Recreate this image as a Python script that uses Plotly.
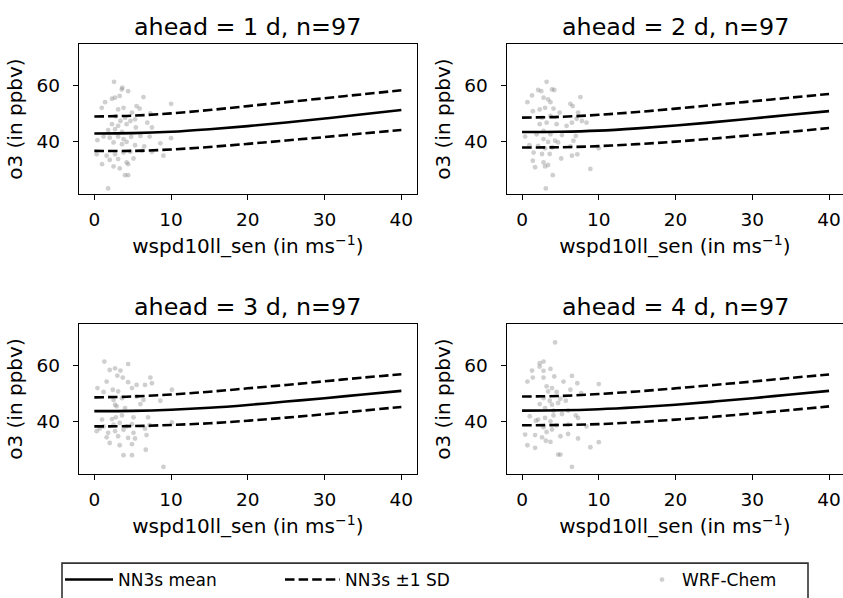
import plotly.graph_objects as go

# ---------------------------------------------------------------- data
lead_days = [1, 2, 3, 4]
n_samples = [97, 97, 97, 97]

# NN3s response curves on a wind-speed grid (m/s)
grid_wspd = [0, 5, 10, 15, 20, 25, 30, 35, 40]

mean_d1 = [43.0, 43.1, 43.6, 44.5, 45.6, 46.9, 48.3, 49.8, 51.3]
upper_d1 = [49.0, 49.3, 50.1, 51.3, 52.7, 54.1, 55.5, 56.9, 58.3]
lower_d1 = [36.8, 36.8, 37.3, 38.2, 39.3, 40.5, 41.7, 43.0, 44.2]

mean_d2 = [43.5, 43.6, 44.0, 44.8, 45.8, 47.0, 48.3, 49.6, 50.9]
upper_d2 = [48.6, 48.9, 49.6, 50.6, 51.8, 53.1, 54.4, 55.7, 57.0]
lower_d2 = [38.0, 38.1, 38.5, 39.2, 40.1, 41.2, 42.4, 43.6, 44.9]

mean_d3 = [43.8, 43.9, 44.3, 45.0, 46.0, 47.2, 48.4, 49.7, 51.0]
upper_d3 = [48.7, 49.0, 49.7, 50.7, 51.9, 53.1, 54.4, 55.7, 56.9]
lower_d3 = [38.4, 38.5, 38.9, 39.5, 40.4, 41.5, 42.7, 44.0, 45.3]

mean_d4 = [44.0, 44.1, 44.5, 45.2, 46.1, 47.2, 48.4, 49.7, 51.0]
upper_d4 = [49.0, 49.2, 49.9, 50.8, 51.9, 53.1, 54.3, 55.6, 56.8]
lower_d4 = [38.8, 38.9, 39.2, 39.9, 40.8, 41.8, 43.0, 44.2, 45.5]

# WRF-Chem samples: 10 m wind speed (m/s) and O3 (ppbv)
wspd_d1 = [2.57, 3.65, 3.57, 4.4, 1.4, 2.3, 2.7, 3.3, 6.4, 10.0, 0.96, 3.1, 3.8,
           5.5, 5.9, 4.9, 7.3, 2.8, 4.0, 3.4, 4.7, 5.3, 2.3, 3.1, 4.2, 6.9, 1.8,
           2.7, 3.6, 5.4, 7.5, 1.2, 2.0, 3.1, 3.8, 4.8, 6.0, 7.2, 10.0, 0.4, 2.5,
           3.6, 4.2, 5.3, 6.5, 8.6, 0.3, 1.6, 2.7, 3.8, 4.7, 6.2, 7.5, 9.0, 2.0,
           3.1, 4.2, 5.1, 1.0, 2.5, 3.3, 4.4, 4.0, 4.4, 1.8]
o3_d1 = [61.3, 59.2, 58.6, 58.0, 54.1, 55.3, 55.7, 56.3, 55.9, 53.5, 52.1, 51.5,
         52.1, 52.7, 51.8, 50.4, 50.1, 49.1, 48.6, 47.4, 47.4, 48.0, 46.3, 45.7,
         46.3, 46.8, 44.2, 44.5, 43.5, 45.1, 45.1, 41.9, 41.5, 41.9, 41.0, 41.8,
         42.1, 41.9, 41.3, 40.6, 39.8, 39.2, 40.0, 38.8, 38.4, 39.5, 35.6, 35.1,
         35.6, 36.2, 36.5, 36.8, 36.5, 35.1, 33.6, 33.9, 32.7, 34.1, 32.1, 31.3,
         30.6, 32.1, 28.2, 28.2, 23.5]

wspd_d2 = [3.2, 2.1, 2.5, 3.9, 4.2, 1.3, 0.7, 2.8, 3.4, 7.6, 3.7, 1.4, 2.3, 3.0,
           4.1, 6.3, 6.6, 4.9, 7.3, 2.6, 3.7, 7.1, 8.4, 2.3, 3.2, 4.5, 5.8, 6.5,
           7.8, 0.4, 1.9, 2.8, 3.7, 5.2, 7.0, 2.8, 3.4, 4.3, 4.7, 6.7, 10.0, 0.96,
           2.1, 3.0, 3.9, 6.3, 1.5, 2.6, 3.6, 5.1, 6.5, 7.2, 1.4, 2.8, 3.4, 1.7,
           3.0, 8.9, 4.0, 3.1]
o3_d2 = [61.3, 58.4, 58.0, 58.6, 58.4, 56.5, 54.1, 55.7, 55.1, 55.9, 54.1, 50.9,
         51.5, 52.1, 51.8, 53.5, 52.7, 50.4, 50.4, 48.6, 49.2, 48.2, 46.8, 46.3,
         46.8, 46.3, 45.7, 46.8, 47.4, 41.9, 42.7, 43.9, 42.7, 42.4, 42.1, 41.0,
         40.0, 40.4, 39.8, 40.4, 37.7, 38.8, 38.6, 37.7, 38.0, 38.4, 36.2, 35.7,
         35.7, 34.1, 35.1, 35.6, 33.3, 32.7, 31.8, 31.0, 31.3, 30.4, 28.2, 23.5]

wspd_d3 = [1.3, 4.4, 2.0, 2.7, 3.4, 3.0, 3.7, 1.6, 4.4, 5.5, 6.6, 7.5, 7.3, 0.4,
           1.2, 2.4, 3.1, 4.9, 10.1, 2.5, 3.6, 5.5, 6.4, 8.6, 2.7, 2.9, 4.0, 6.0,
           1.0, 2.3, 2.8, 3.6, 5.1, 7.0, 10.1, 0.3, 1.2, 2.5, 3.3, 4.2, 4.9, 6.6,
           7.2, 0.7, 1.8, 2.7, 3.8, 5.1, 6.8, 1.6, 3.1, 4.4, 5.3, 2.0, 3.3, 4.9,
           6.7, 3.8, 4.9, 9.0]
o3_d3 = [61.4, 60.5, 58.4, 59.0, 58.2, 56.4, 55.7, 54.3, 54.1, 53.1, 53.1, 53.7,
         55.7, 52.0, 50.6, 51.4, 50.8, 52.0, 51.4, 47.8, 48.4, 49.0, 47.8, 47.5,
         46.1, 45.5, 44.9, 46.3, 40.8, 41.0, 41.6, 42.3, 41.6, 41.6, 39.8, 36.7,
         38.4, 39.0, 39.6, 38.4, 39.2, 37.6, 38.8, 37.6, 36.1, 36.7, 37.2, 36.1,
         35.3, 34.5, 34.9, 34.3, 34.1, 32.5, 31.7, 32.1, 30.1, 28.2, 28.2, 24.0]

wspd_d4 = [4.3, 2.3, 2.8, 2.3, 1.3, 2.8, 3.7, 0.7, 1.4, 2.8, 4.2, 5.4, 6.5, 7.2,
           10.0, 3.2, 3.9, 3.4, 4.5, 6.3, 7.7, 2.8, 3.6, 5.0, 5.7, 2.3, 3.9, 4.7,
           3.0, 4.1, 6.0, 1.0, 2.1, 3.0, 4.1, 5.2, 7.0, 7.3, 1.8, 3.7, 4.5, 6.0,
           8.4, 2.8, 3.9, 3.2, 0.4, 1.7, 2.6, 3.1, 3.7, 5.0, 6.0, 7.3, 0.7, 1.7,
           8.9, 10.0, 4.7, 5.0, 6.5]
o3_d4 = [68.2, 60.8, 61.4, 59.6, 58.2, 58.1, 58.8, 54.3, 55.7, 55.7, 56.1, 54.3,
         56.3, 53.7, 53.4, 52.6, 52.0, 50.8, 50.6, 51.4, 50.2, 48.4, 47.5, 48.2,
         47.5, 46.3, 46.1, 46.7, 44.9, 44.0, 44.0, 42.0, 40.8, 41.4, 42.3, 42.8,
         42.3, 41.4, 40.4, 40.2, 38.8, 39.0, 38.4, 38.1, 37.3, 36.4, 35.5, 35.3,
         34.5, 33.3, 32.9, 34.9, 35.7, 34.1, 31.7, 30.8, 31.0, 32.8, 28.4, 28.4,
         24.0]

x_ticks = [0, 10, 20, 30, 40]
y_ticks = [40, 60]

panels = [
    (wspd_d1, o3_d1, mean_d1, upper_d1, lower_d1),
    (wspd_d2, o3_d2, mean_d2, upper_d2, lower_d2),
    (wspd_d3, o3_d3, mean_d3, upper_d3, lower_d3),
    (wspd_d4, o3_d4, mean_d4, upper_d4, lower_d4),
]

# ---------------------------------------------------------------- layout geometry (pixels)
W, H = 843, 598
PX_PER_X = 7.675
col_left = [79.0, 506.7]
col_right = [416.7, 843.0]
row_top = [44.3, 325.7]
row_bottom = [195.0, 476.4]
Y_RANGE = [21.5, 74.7]

INK = "black"
FONT = "DejaVu Sans"

fig = go.Figure()

for i, (wx, wo, m, up, lo) in enumerate(panels):
    k = "" if i == 0 else str(i + 1)
    xref, yref = "x" + k, "y" + k
    first = i == 0
    fig.add_trace(go.Scatter(
        x=wx, y=wo, mode="markers", xaxis=xref, yaxis=yref,
        marker=dict(size=4.8, color="rgba(128,128,128,0.38)", line=dict(width=0)),
        name="WRF-Chem", legend="legend3", showlegend=first))
    fig.add_trace(go.Scatter(
        x=grid_wspd, y=m, mode="lines", xaxis=xref, yaxis=yref,
        line=dict(color=INK, width=2.6, shape="spline", smoothing=1.0),
        name="NN3s mean", legend="legend", showlegend=first))
    for j, band in enumerate((up, lo)):
        fig.add_trace(go.Scatter(
            x=grid_wspd, y=band, mode="lines", xaxis=xref, yaxis=yref,
            line=dict(color=INK, width=2.6, dash="9.5px,4.1px", shape="spline", smoothing=1.0),
            name="NN3s \u00b11 SD", legend="legend2", showlegend=first and j == 0))

axis_style = dict(
    showline=True, linecolor=INK, linewidth=1.4,
    ticks="outside", ticklen=5, tickwidth=1.4, tickcolor=INK,
    showgrid=False, zeroline=False,
    tickfont=dict(family=FONT, size=18.5, color=INK),
)

layout = dict(
    width=W, height=H,
    margin=dict(l=0, r=0, t=0, b=0),
    paper_bgcolor="white", plot_bgcolor="white",
    font=dict(family=FONT, color=INK),
    showlegend=True,
)

annotations = []
for i in range(4):
    r, c = divmod(i, 2)
    k = "" if i == 0 else str(i + 1)
    x0, x1 = col_left[c], col_right[c]
    y0, y1 = row_top[r], row_bottom[r]
    width_units = (x1 - x0) / PX_PER_X
    layout["xaxis" + k] = dict(
        axis_style, domain=[x0 / W, x1 / W], range=[-2, -2 + width_units],
        tickvals=x_ticks, anchor="y" + k, mirror=True, ticklabelstandoff=4,
        title=dict(text="wspd10ll_sen (in ms<sup>\u22121</sup>)",
                   font=dict(family=FONT, size=20, color=INK), standoff=9),
    )
    layout["yaxis" + k] = dict(
        axis_style, domain=[1 - y1 / H, 1 - y0 / H], range=Y_RANGE,
        tickvals=y_ticks, anchor="x" + k, mirror=(c == 0), ticklabelstandoff=9,
        title=dict(text="o3 (in ppbv)",
                   font=dict(family=FONT, size=20, color=INK), standoff=8),
    )
    annotations.append(dict(
        text=f"ahead = {lead_days[i]} d, n={n_samples[i]}",
        xref="paper", yref="paper",
        x=((x0 + col_right[c] + (1.4 if c == 1 else 0)) / 2) / W,
        y=1 - (y0 - 17) / H,
        xanchor="center", yanchor="middle", showarrow=False,
        font=dict(family=FONT, size=23.8, color=INK),
    ))

layout["annotations"] = annotations

# frame around the legend row
layout["shapes"] = [dict(
    type="rect", xref="paper", yref="paper",
    x0=62 / W, x1=808 / W, y0=1 - 610 / H, y1=1 - 566 / H,
    line=dict(color="#333333", width=1.6), fillcolor="rgba(0,0,0,0)",
)]

legend_common = dict(
    orientation="h", yref="paper", xref="paper",
    y=1 - 583 / H, yanchor="middle", xanchor="left",
    bgcolor="rgba(0,0,0,0)", borderwidth=0,
    font=dict(family=FONT, size=17, color=INK),
)
layout["legend"] = dict(legend_common, x=60 / W, itemwidth=48)
layout["legend2"] = dict(legend_common, x=280 / W, itemwidth=55)
layout["legend3"] = dict(legend_common, x=642 / W)

fig.update_layout(**layout)
fig.write_html("out.html")
